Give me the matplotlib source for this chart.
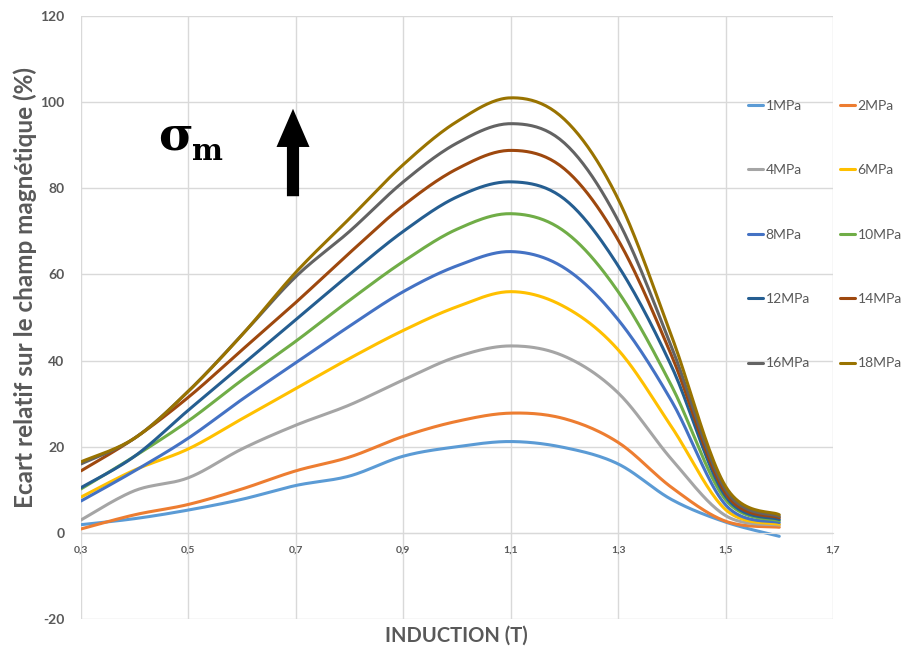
import matplotlib
matplotlib.use('Agg')
import matplotlib.pyplot as plt
from matplotlib.ticker import FixedLocator, FuncFormatter
import numpy as np

# induction (T)
induction = [0.3, 0.4, 0.5, 0.6, 0.7, 0.8, 0.9, 1.0, 1.1, 1.2, 1.3, 1.4, 1.5, 1.6]

# relative deviation (%) for each stress level
s1 = [1.9, 3.3, 5.3, 7.8, 11.0, 13.2, 17.8, 20.0, 21.2, 19.8, 16.0, 7.7, 2.5, -0.8]
s2 = [0.9, 4.2, 6.6, 10.2, 14.4, 17.6, 22.4, 25.9, 27.8, 26.5, 21.0, 10.5, 2.7, 1.3]
s4 = [3.0, 9.8, 12.8, 19.5, 25.0, 29.7, 35.5, 40.9, 43.4, 41.0, 32.5, 17.0, 4.0, 1.8]
s6 = [8.3, 14.6, 19.5, 26.5, 33.5, 40.5, 47.0, 52.5, 56.0, 52.5, 42.5, 24.5, 5.4, 2.0]
s8 = [7.4, 14.4, 22.0, 31.0, 39.5, 48.0, 56.0, 62.0, 65.3, 61.5, 49.5, 30.5, 6.5, 2.4]
s10 = [10.2, 17.8, 26.0, 35.5, 44.5, 54.0, 63.0, 70.5, 74.1, 70.0, 56.0, 34.0, 7.7, 2.8]
s12 = [10.5, 17.8, 28.5, 39.0, 49.5, 60.0, 70.0, 78.0, 81.5, 77.5, 62.0, 38.5, 8.5, 3.1]
s14 = [14.4, 22.0, 31.5, 42.5, 53.5, 65.0, 76.0, 84.5, 88.8, 84.5, 68.0, 41.0, 9.2, 3.5]
s16 = [16.0, 22.0, 32.9, 46.0, 59.5, 70.0, 81.5, 90.5, 95.0, 90.5, 72.5, 43.0, 10.0, 3.8]
s18 = [16.5, 22.0, 32.9, 46.0, 60.5, 73.0, 85.5, 95.5, 101.0, 96.0, 77.5, 45.5, 10.8, 4.2]

labels = ['1MPa', '2MPa', '4MPa', '6MPa', '8MPa', '10MPa', '12MPa', '14MPa', '16MPa', '18MPa']
series = [s1, s2, s4, s6, s8, s10, s12, s14, s16, s18]
colors = ['#5B9BD5', '#ED7D31', '#A5A5A5', '#FFC000', '#4472C4',
          '#70AD47', '#255E91', '#9E480E', '#636363', '#997300']

x_ticks = [0.3, 0.5, 0.7, 0.9, 1.1, 1.3, 1.5, 1.7]
y_ticks = [-20, 0, 20, 40, 60, 80, 100, 120]

TXT = '#595959'
GRID = '#D9D9D9'


def smooth(x, y, n=24):
    # excel-like smoothed line (bezier through the points)
    pts = np.column_stack([x, y]).astype(float)
    pad = np.vstack([pts[0], pts, pts[-1]])
    t = np.linspace(0, 1, n)[:, None]
    out = []
    for i in range(len(pts) - 1):
        p0, p1, p2, p3 = pad[i], pad[i + 1], pad[i + 2], pad[i + 3]
        c1 = p1 + (p2 - p0) / 6
        c2 = p2 - (p3 - p1) / 6
        seg = (1 - t) ** 3 * p1 + 3 * (1 - t) ** 2 * t * c1 + 3 * (1 - t) * t ** 2 * c2 + t ** 3 * p2
        out.append(seg if i == 0 else seg[1:])
    out = np.vstack(out)
    return out[:, 0], out[:, 1]


plt.rcParams['font.family'] = ['Lato', 'DejaVu Sans']

fig = plt.figure(figsize=(9.04, 6.49), dpi=100)
ax = fig.add_axes([81 / 904, 1 - 619 / 649, (833 - 81) / 904, (619 - 16) / 649])

handles = []
for lab, vals, col in zip(labels, series, colors):
    sx, sy = smooth(induction, vals)
    h, = ax.plot(sx, sy, color=col, lw=2.2, label=lab, solid_capstyle='round')
    handles.append(h)

ax.set_xlim(0.3, 1.7)
ax.set_ylim(-20, 120)
ax.xaxis.set_major_locator(FixedLocator(x_ticks))
ax.yaxis.set_major_locator(FixedLocator(y_ticks))
ax.xaxis.set_major_formatter(FuncFormatter(lambda v, p: ('%.1f' % v).replace('.', ',')))
ax.yaxis.set_major_formatter(FuncFormatter(lambda v, p: '%d' % v))
ax.grid(True, color=GRID, lw=1)
ax.set_axisbelow(True)
for s in ['top', 'right', 'left']:
    ax.spines[s].set_visible(False)
ax.spines['bottom'].set_position(('data', 0))
ax.spines['bottom'].set_color(GRID)
ax.tick_params(axis='x', length=0, pad=9, labelsize=7.5, labelcolor=TXT)
ax.tick_params(axis='y', length=0, pad=12, labelsize=10, labelcolor=TXT)
for lbl in ax.get_xticklabels() + ax.get_yticklabels():
    lbl.set_fontweight('bold')

fig.text(456 / 904, 1 - 636 / 649, 'INDUCTION (T)', ha='center', va='center',
         fontsize=14.5, fontweight='bold', color=TXT)
fig.text(25 / 904, 1 - 287 / 649, 'Ecart relatif sur le champ magnétique (%)',
         ha='center', va='center', rotation=90, fontsize=17.5, fontweight='bold', color=TXT)

# sigma_m label and arrow
fig.text(158 / 904, 1 - 150 / 649, 'σ', fontsize=34, fontweight='bold',
         family='DejaVu Serif', color='black', ha='left', va='baseline')
fig.text(192 / 904, 1 - 160 / 649, 'm', fontsize=21, fontweight='bold',
         family='DejaVu Serif', color='black', ha='left', va='baseline')
ax.annotate('', xy=(293, 649 - 106), xycoords='figure pixels',
            xytext=(293, 649 - 199), textcoords='figure pixels',
            arrowprops=dict(arrowstyle='simple,head_length=1.1,head_width=0.95,tail_width=0.35',
                            color='black', lw=0, mutation_scale=25))

# legend, two columns in excel order
order = [0, 2, 4, 6, 8, 1, 3, 5, 7, 9]
leg = fig.legend([handles[i] for i in order], [labels[i] for i in order],
                 ncol=2, loc='upper left', bbox_to_anchor=(748 / 904, 1 - 100 / 649),
                 frameon=False, fontsize=10, handlelength=1.1, handletextpad=0.15,
                 columnspacing=2.2, labelspacing=3.77, borderaxespad=0, borderpad=0)
for t in leg.get_texts():
    t.set_color(TXT)

fig.savefig('out.png', dpi=100)
